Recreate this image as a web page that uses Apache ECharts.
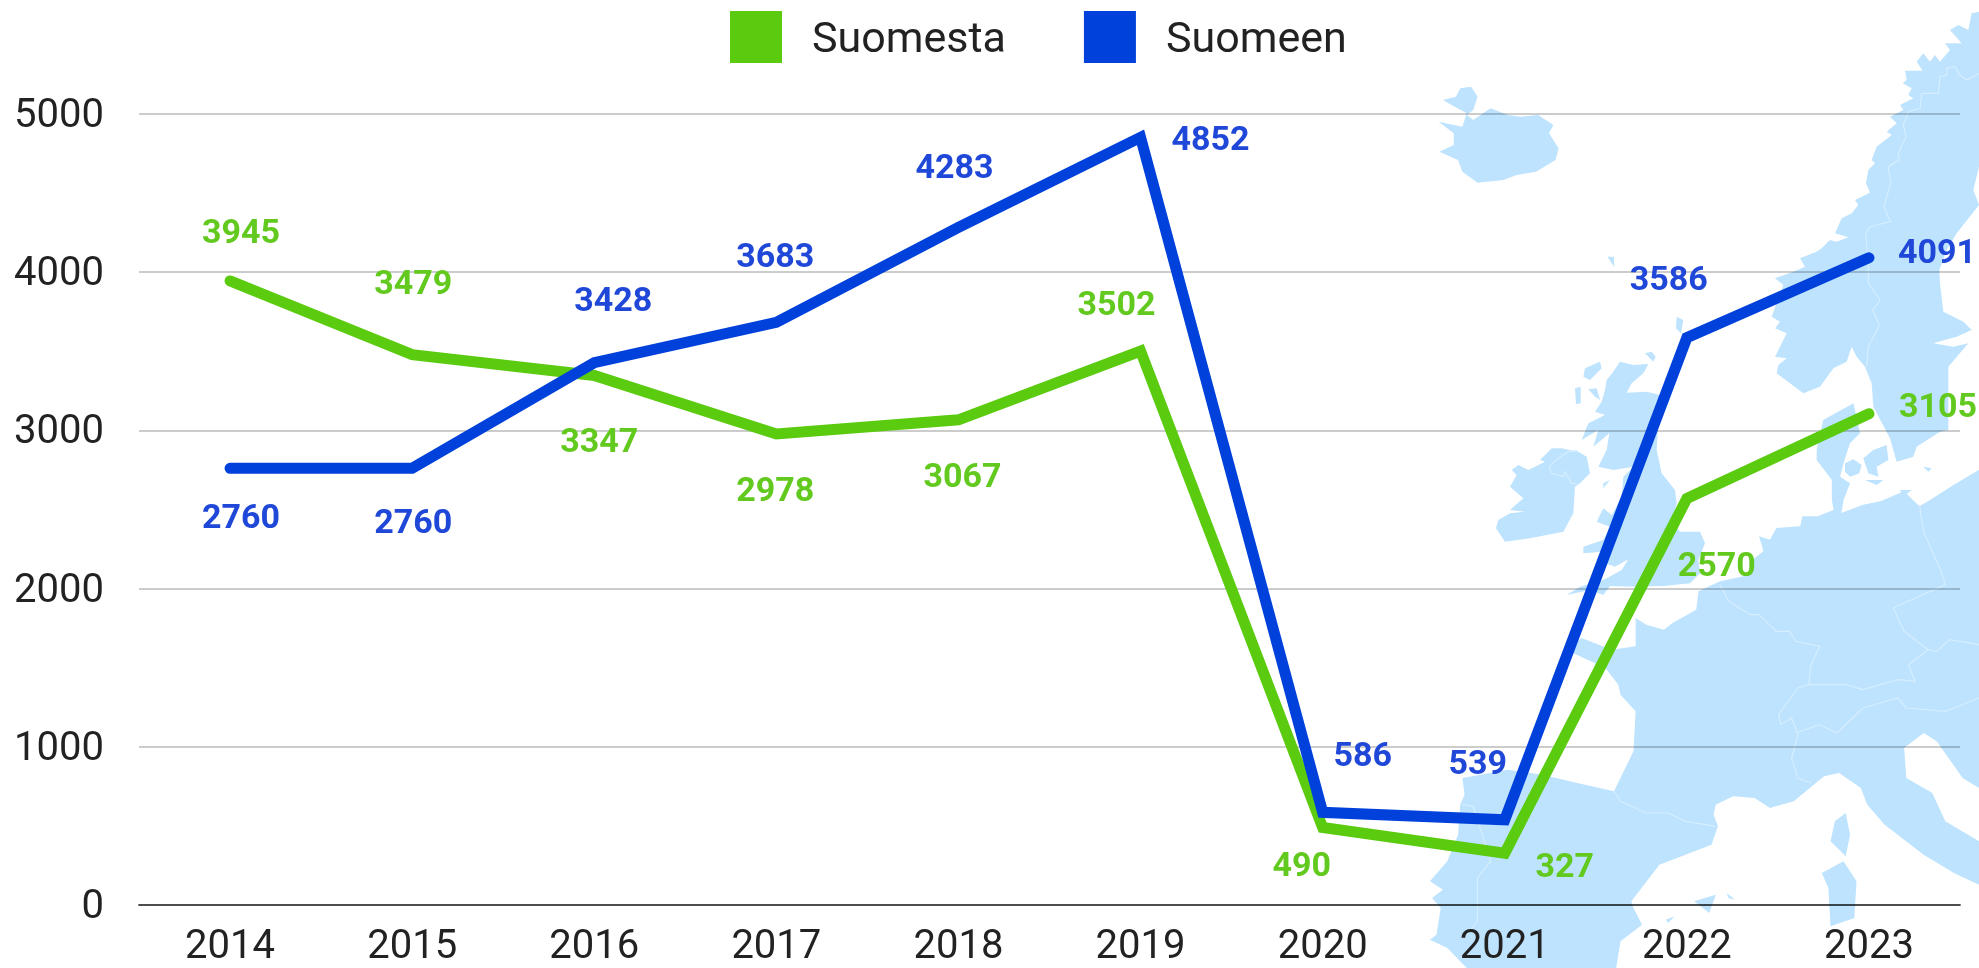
<!DOCTYPE html>
<html>
<head>
<meta charset="utf-8">
<style>
html, body { margin: 0; padding: 0; background: #fff; }
#main { width: 1979px; height: 968px; }
</style>
<script src="https://cdn.jsdelivr.net/npm/echarts@6/dist/echarts.min.js"></script>
</head>
<body>
<div id="main"></div>
<script>
var years = ['2014', '2015', '2016', '2017', '2018', '2019', '2020', '2021', '2022', '2023'];
var suomesta = [3945, 3479, 3347, 2978, 3067, 3502, 490, 327, 2570, 3105];
var suomeen = [2760, 2760, 3428, 3683, 4283, 4852, 586, 539, 3586, 4091];

// label offsets from the point, the labels sit by hand in the original
var suomestaOffsets = [[11, -46], [1, -69], [5, 68], [-1, 59], [4, 59], [-24, -44], [-21, 40], [60, 15], [30, 69], [69, -5]];
var suomeenOffsets = [[11, 51], [1, 56], [19, -60], [-1, -64], [-4, -58], [70, 4], [40, -55], [-27, -54], [-18, -56], [68, -3]];

var GREEN = '#5bcb10';
var BLUE = '#0041dc';
var MAP_BLUE = '#bde3fe';

// background map outlines, traced in crop coordinates (see toPx)
var iceland = [[330,300],[360,290],[370,265],[395,260],[410,290],[400,330],[385,345],[400,360],[440,325],[480,345],[510,350],[550,345],[585,375],[575,400],[597,445],[590,480],[545,515],[500,525],[470,540],[410,548],[375,515],[365,480],[322,455],[355,435],[355,400],[320,365],[375,380],[385,340],[350,315]];
var continent = [[1278,1210],[1293,1300],[1270,1330],[1255,1390],[1247,1430],[1270,1450],[1255,1500],[1250,1539],[1300,1514],[1340,1504],[1395,1474],[1430,1519],[1450,1504],[1510,1454],[1568,1409],[1568,2364],[1530,2334],[1470,2224],[1440,2199],[1395,2244],[1400,2334],[1460,2379],[1490,2464],[1568,2524],[1568,2654],[1510,2619],[1440,2564],[1350,2474],[1310,2414],[1295,2364],[1245,2319],[1210,2329],[1140,2404],[1085,2424],[1050,2394],[1000,2389],[960,2414],[955,2444],[965,2479],[950,2534],[830,2594],[765,2704],[770,2724],[790,2774],[740,2824],[730,2904],[385,2904],[340,2844],[300,2819],[315,2804],[325,2724],[305,2694],[330,2669],[300,2644],[340,2584],[365,2504],[370,2414],[380,2384],[375,2334],[480,2309],[560,2324],[640,2349],[725,2374],[770,2254],[775,2134],[740,2084],[735,2054],[705,2004],[630,1959],[640,1924],[650,1914],[720,1949],[775,1939],[775,1854],[800,1874],[840,1889],[860,1869],[915,1829],[920,1774],[970,1744],[1040,1724],[1045,1679],[1070,1654],[1060,1609],[1085,1619],[1100,1584],[1155,1579],[1160,1549],[1195,1549],[1232,1530],[1228,1500],[1228,1440],[1193,1380],[1193,1350],[1208,1260]];
var islands = [
    [[870,950],[885,960],[880,1000],[868,985]],
    [[710,770],[725,770],[725,800]],
    [[910,2704],[960,2684],[945,2739]],
    [[985,2679],[1005,2699],[990,2695]],
    [[845,2759],[865,2749],[850,2769]],
    [[1260,2439],[1270,2504],[1260,2569],[1225,2524],[1235,2464]],
    [[1255,2584],[1285,2644],[1280,2754],[1225,2779],[1220,2664],[1205,2619]]
];
var borders = [
    [[970,1754],[990,1804],[1040,1844],[1060,1844],[1100,1894],[1130,1894],[1145,1924],[1200,1939],[1180,1994],[1175,2054],[1150,2064],[1105,2144],[1110,2174],[1135,2154],[1150,2204],[1135,2274],[1150,2334],[1180,2349]],
    [[725,2374],[740,2404],[800,2439],[850,2439],[890,2464],[960,2479]],
    [[375,2414],[400,2419],[440,2584],[410,2634],[410,2764],[385,2804]],
    [[1175,2054],[1260,2054],[1300,2069],[1380,2039],[1420,2044],[1405,1994],[1450,1949],[1470,1954],[1500,1919],[1568,1934]],
    [[1430,1514],[1440,1594],[1480,1714],[1490,1754],[1370,1824],[1395,1894],[1450,1949]],
    [[1145,2199],[1200,2174],[1240,2199],[1300,2124],[1380,2094],[1400,2124],[1490,2134],[1568,2094]]
];

var scandinavia = [[837,35],[815,40],[805,90],[775,75],[750,90],[785,130],[735,130],[750,150],[720,185],[705,165],[690,185],[670,160],[650,185],[668,212],[615,212],[620,240],[608,250],[635,265],[625,285],[640,295],[600,315],[610,330],[570,350],[590,370],[560,395],[575,405],[530,440],[515,480],[525,490],[505,510],[498,550],[510,578],[465,600],[475,615],[455,640],[425,655],[405,700],[445,712],[410,725],[390,720],[365,745],[350,755],[300,775],[315,800],[280,815],[225,835],[250,855],[215,950],[240,965],[225,985],[260,1000],[240,1040],[225,1070],[260,1075],[235,1095],[230,1120],[310,1180],[360,1160],[400,1105],[440,1085],[455,1040],[470,1070],[495,1100],[515,1150],[520,1220],[570,1315],[590,1385],[640,1370],[650,1340],[720,1295],[745,1290],[745,1100],[805,1030],[760,1040],[700,1030],[770,1010],[815,990],[790,965],[730,935],[720,850],[718,810],[740,750],[770,700],[837,615],[820,570],[837,500]];
var balticIslands = [
    [[435,1390],[460,1378],[485,1395],[478,1420],[450,1430],[435,1415]],
    [[490,1375],[520,1350],[560,1335],[565,1380],[530,1400],[535,1430],[505,1420]],
    [[495,1440],[550,1440],[530,1455]],
    [[670,1400],[695,1405],[685,1415]],
    [[600,1470],[635,1470],[610,1490]]
];
var swedenBorder = [[837,220],[800,240],[780,225],[765,200],[740,205],[740,225],[720,230],[715,280],[665,280],[660,325],[625,335],[610,375],[618,410],[595,460],[598,480],[565,500],[572,550],[552,620],[572,665],[510,680],[497,700],[505,805],[505,850],[540,900],[518,930],[538,975],[505,1040],[500,1100]];

// britain and ireland, another crop (see toPxUk)
var britain = [[390,65],[430,75],[475,72],[460,100],[425,130],[410,158],[470,155],[510,165],[500,330],[515,400],[555,450],[560,490],[545,540],[570,575],[630,575],[645,610],[625,660],[630,700],[600,730],[520,738],[430,740],[360,738],[340,765],[300,750],[230,765],[270,740],[340,720],[395,690],[415,658],[375,680],[345,670],[335,635],[280,640],[280,620],[340,600],[360,560],[320,545],[340,505],[365,525],[395,470],[400,410],[430,380],[370,390],[325,380],[350,330],[358,280],[310,320],[325,270],[275,300],[295,250],[345,225],[315,215],[335,185],[345,150],[350,120],[370,95]];
var ireland = [[150,360],[185,325],[215,325],[265,335],[290,350],[300,400],[270,430],[255,440],[250,520],[220,575],[120,595],[45,605],[18,565],[25,540],[60,520],[105,515],[60,510],[100,475],[60,440],[80,405],[65,390],[85,375],[115,390],[165,365]];
var ukIslands = [
    [[285,85],[330,65],[335,85],[300,120],[280,110]],
    [[255,145],[272,140],[272,190],[258,192]],
    [[295,148],[320,145],[330,180],[315,170]],
    [[465,40],[485,35],[497,50],[490,65]],
    [[340,430],[360,420],[340,445]]
];
var irishBorder = [[262,332],[235,335],[205,355],[178,380],[185,400],[220,410],[225,395],[245,430],[262,432]];

function toPx(points) {
    return points.map(function (p) {
        return [1300 + p[0] / 2.309, p[1] / 3];
    });
}

function toPxFine(points) {
    return points.map(function (p) {
        return [1700 + p[0] / 3, p[1] / 3];
    });
}

function toPxUk(points) {
    return points.map(function (p) {
        return [1490 + p[0] / 3, 340 + p[1] / 3];
    });
}

var mapShapes = [];
function addLand(points) {
    mapShapes.push({
        type: 'polygon',
        z: -2,
        silent: true,
        shape: { points: points },
        style: { fill: MAP_BLUE }
    });
}
function addBorder(points) {
    mapShapes.push({
        type: 'polyline',
        z: -1,
        silent: true,
        shape: { points: points },
        style: { stroke: '#d6eeff', lineWidth: 1.2, fill: null }
    });
}
[iceland, continent].concat(islands).forEach(function (pts) {
    addLand(toPx(pts));
});
[scandinavia].concat(balticIslands).forEach(function (pts) {
    addLand(toPxFine(pts));
});
[britain, ireland].concat(ukIslands).forEach(function (pts) {
    addLand(toPxUk(pts));
});
borders.forEach(function (pts) {
    addBorder(toPx(pts));
});
addBorder(toPxFine(swedenBorder));
addBorder(toPxUk(irishBorder));

function withLabels(values, offsets) {
    return values.map(function (v, i) {
        return { value: v, label: { offset: offsets[i] } };
    });
}

function lineSeries(name, values, offsets, color, labelColor) {
    return {
        name: name,
        type: 'line',
        data: withLabels(values, offsets),
        symbol: 'circle',
        symbolSize: 1,
        showSymbol: true,
        itemStyle: { color: color },
        lineStyle: { color: color, width: 11, cap: 'round', join: 'miter' },
        label: {
            show: true,
            position: 'inside',
            color: labelColor,
            fontFamily: 'Roboto',
            fontWeight: 700,
            fontSize: 34
        },
        emphasis: { disabled: true },
        animation: false
    };
}

var myChart = echarts.init(document.getElementById('main'));

var option = {
    backgroundColor: '#fff',
    animation: false,
    graphic: { elements: mapShapes },
    legend: {
        left: 725,
        top: 6,
        itemWidth: 52,
        itemHeight: 52,
        itemGap: 78,
        icon: 'rect',
        selectedMode: false,
        formatter: '{t|{name}}',
        textStyle: {
            rich: {
                // plain padding does not move middle aligned text, rich does
                t: {
                    fontFamily: 'Roboto',
                    fontSize: 43,
                    color: '#222',
                    padding: [8, 0, 0, 25]
                }
            }
        },
        data: ['Suomesta', 'Suomeen']
    },
    grid: {
        left: 139,
        right: 19,
        top: 114,
        bottom: 61
    },
    xAxis: {
        type: 'category',
        data: years,
        axisTick: { show: false },
        axisLine: { lineStyle: { color: 'rgba(0,0,0,0.62)', width: 2 } },
        axisLabel: {
            margin: 23,
            color: '#222',
            fontFamily: 'Roboto',
            fontSize: 40
        }
    },
    yAxis: {
        type: 'value',
        min: 0,
        max: 5000,
        interval: 1000,
        axisLine: { show: false },
        axisTick: { show: false },
        axisLabel: {
            margin: 35,
            formatter: function (v) { return '{t|' + v + '}'; },
            rich: {
                t: {
                    fontFamily: 'Roboto',
                    fontSize: 40,
                    color: '#222',
                    padding: [6, 0, 0, 0]
                }
            }
        },
        splitLine: { lineStyle: { color: 'rgba(0,0,0,0.2)', width: 2 } }
    },
    series: [
        lineSeries('Suomesta', suomesta, suomestaOffsets, GREEN, '#62c91f'),
        lineSeries('Suomeen', suomeen, suomeenOffsets, BLUE, '#1f47d8')
    ]
};

myChart.setOption(option);
</script>
</body>
</html>
